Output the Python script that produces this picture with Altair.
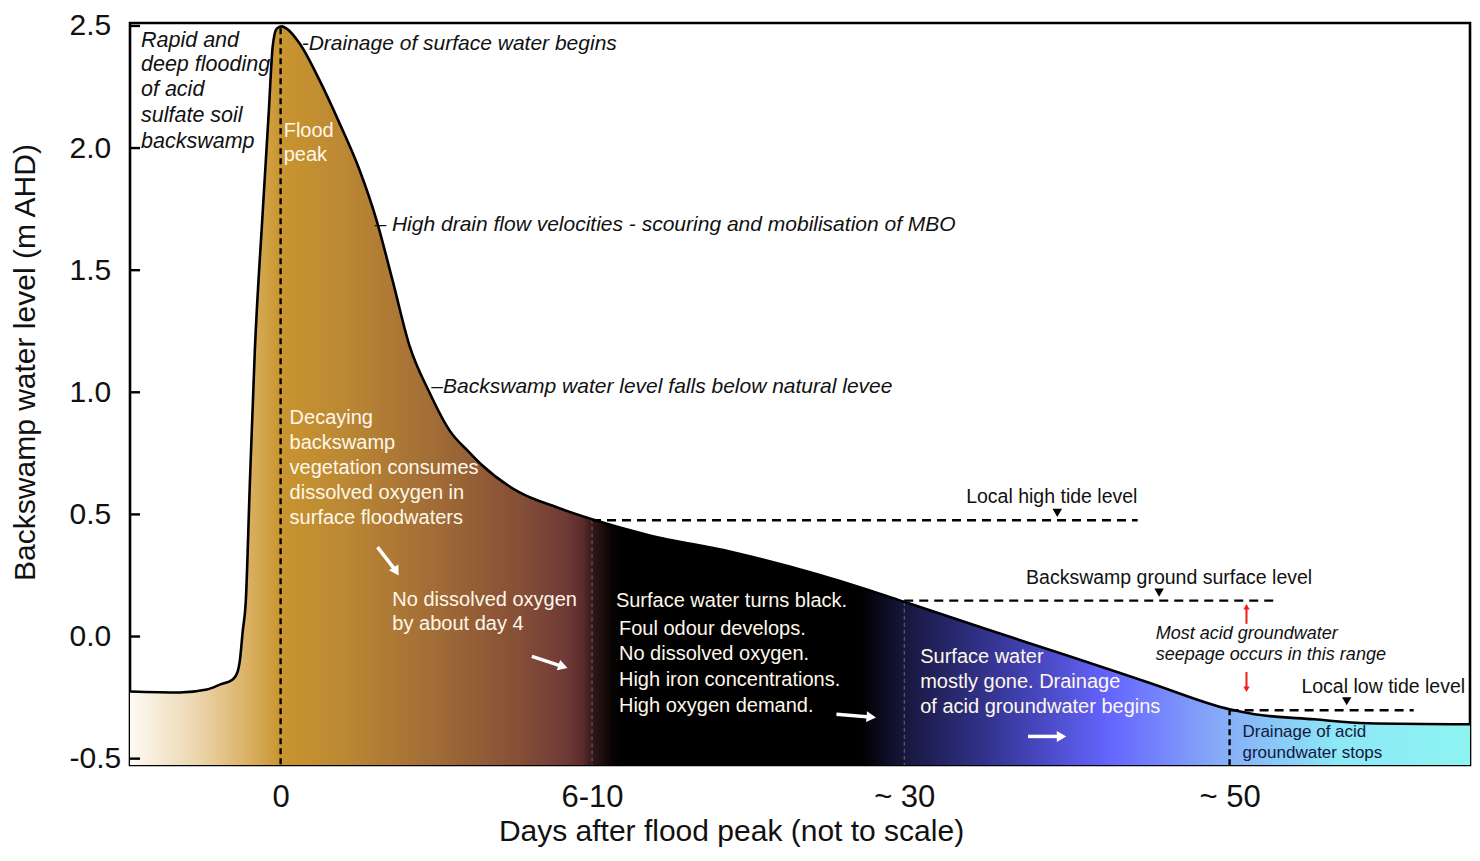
import altair as alt
import pandas as pd

FONT = "Liberation Sans"
Y_MIN, Y_MAX = -0.526, 2.512
X_MIN, X_MAX = 0.0, 100.0

# ---- water level curve (x = position along the not-to-scale time axis, 0..100)
curve_u = [0.0, 3.72, 5.73, 6.70, 7.67, 8.04, 8.19, 8.41, 8.64, 8.94, 9.31, 9.90, 10.35,
           10.65, 10.95, 11.32, 11.69, 12.66, 14.15, 15.64, 17.13, 18.39, 19.58, 20.85,
           22.34, 23.83, 25.32, 26.28, 29.04, 31.79, 34.48, 38.72, 44.90, 51.15, 55.10,
           57.78, 64.0, 70.0, 76.0, 82.06, 83.92, 88.38, 92.33, 100.0]
curve_y = [-0.225, -0.229, -0.217, -0.197, -0.176, -0.143, -0.102, 0.020, 0.143, 0.620,
           1.163, 1.734, 2.142, 2.416, 2.489, 2.498, 2.489, 2.428, 2.277, 2.101, 1.910,
           1.706, 1.461, 1.192, 1.000, 0.845, 0.754, 0.701, 0.591, 0.530, 0.480, 0.415,
           0.346, 0.257, 0.191, 0.142, 0.029, -0.079, -0.188, -0.298, -0.318, -0.339,
           -0.355, -0.359]

# ---- x axis ticks
tick_pos = [11.24, 34.48, 57.78, 82.06]
tick_labels = ["0", "6-10", "~ 30", "~ 50"]
y_ticks = [-0.5, 0.0, 0.5, 1.0, 1.5, 2.0, 2.5]

# ---- vertical dashed stage lines
vline_u = [11.24, 34.48, 57.78, 82.06]
vline_top = [2.49, 0.480, 0.142, -0.298]
vline_kind = ["major", "minor", "minor", "major"]

# ---- horizontal reference levels
level_names = ["Local high tide level", "Backswamp ground surface level", "Local low tide level"]
level_y = [0.476, 0.147, -0.302]
level_start = [34.48, 57.78, 82.06]
level_end = [75.2, 85.6, 95.8]
level_label_u = [62.4, 66.87, 87.42]
level_label_y = [0.572, 0.241, -0.208]
marker_u = [69.2, 76.8, 90.8]
marker_y = [0.506, 0.180, -0.265]

# ---- annotations
italic_text = ["-Drainage of surface water begins",
               "\u2013 High drain flow velocities - scouring and mobilisation of MBO",
               "\u2013Backswamp water level falls below natural levee"]
italic_u = [12.81, 18.24, 22.49]
italic_y = [2.428, 1.685, 1.020]

left_text = ["Rapid and", "deep flooding", "of acid", "sulfate soil", "backswamp"]
left_u = [0.82] * 5
left_y = [2.440, 2.338, 2.236, 2.130, 2.024]

white_text = ["Flood", "peak",
              "Decaying", "backswamp", "vegetation consumes", "dissolved oxygen in", "surface floodwaters",
              "No dissolved oxygen", "by about day 4",
              "Surface water turns black.", "Foul odour develops.", "No dissolved oxygen.",
              "High iron concentrations.", "High oxygen demand.",
              "Surface water", "mostly gone. Drainage", "of acid groundwater begins"]
white_u = [11.47, 11.47,
           11.91, 11.91, 11.91, 11.91, 11.91,
           19.58, 19.58,
           36.26, 36.49, 36.49, 36.49, 36.49,
           58.97, 58.97, 58.97]
white_y = [2.069, 1.971,
           0.894, 0.792, 0.690, 0.588, 0.486,
           0.150, 0.052,
           0.146, 0.032, -0.070, -0.176, -0.283,
           -0.082, -0.188, -0.290]

navy_text = ["Drainage of acid", "groundwater stops"]
navy_u = [83.02, 83.02]
navy_y = [-0.392, -0.478]

seep_text = ["Most acid groundwater", "seepage occurs in this range"]
seep_u = [76.55, 76.55]
seep_y = [0.012, -0.074]

# ---- arrows
w_arrow_u0 = [18.47, 29.99, 52.72, 67.02]
w_arrow_y0 = [0.366, -0.081, -0.318, -0.409]
w_arrow_u1 = [19.80, 32.20, 55.20, 69.40]
w_arrow_y1 = [0.272, -0.121, -0.329, -0.409]
w_arrow_angle = [148, 108, 95, 90]

r_arrow_u = [83.32, 83.32]
r_arrow_y0 = [0.052, -0.145]
r_arrow_y1 = [0.118, -0.212]
r_arrow_angle = [0, 180]

# ---- gradient colours along x
grad_offsets = [0.0, 0.05, 0.085, 0.112, 0.16, 0.23, 0.29, 0.325, 0.338, 0.346, 0.36, 0.37,
                0.545, 0.578, 0.65, 0.73, 0.81, 0.90, 1.0]
grad_colors = ["#fdfaf4", "#ecd6ae", "#dcb46a", "#c9952f", "#bb8834", "#a06b36", "#864f37",
               "#703a37", "#5a2c2c", "#301616", "#080303", "#000000",
               "#000000", "#17173e", "#38389c", "#6464ff", "#86a9f8", "#8ce8f6", "#8ef4f2"]

# ---------------------------------------------------------------------------
xscale = alt.Scale(domain=[X_MIN, X_MAX], nice=False, zero=False)
yscale = alt.Scale(domain=[Y_MIN, Y_MAX], nice=False, zero=False)

label_expr = " : ".join(f"datum.value == {p} ? '{l}'" for p, l in zip(tick_pos, tick_labels)) + " : ''"
ylabel_expr = "datum.value < 0 ? '-' + format(-datum.value, '.1f') : format(datum.value, '.1f')"

xaxis = alt.Axis(values=tick_pos, labelExpr=label_expr, title="Days after flood peak (not to scale)",
                 ticks=False, tickSize=0, domain=False, grid=False, labelFontSize=31, labelPadding=17,
                 labelFont=FONT, labelColor="#111111", titleFont=FONT, titleFontSize=30,
                 titleFontWeight="normal", titleColor="#111111", titleX=601, titleY=66,
                 titleBaseline="middle", titleAlign="center", labelFlush=False)
yaxis = alt.Axis(values=y_ticks, labelExpr=ylabel_expr, title="Backswamp water level (m AHD)",
                 ticks=False, tickSize=0, domain=False, grid=False, labelFontSize=30, labelPadding=61,
                 labelAlign="left", labelFont=FONT, labelColor="#111111", titleFont=FONT,
                 titleFontSize=30, titleFontWeight="normal", titleColor="#111111",
                 titleX=-105, titleY=339, titleBaseline="middle", titleAlign="center", labelFlush=False)


def X(field="u"):
    return alt.X(f"{field}:Q", scale=xscale, axis=xaxis)


def Y(field="y"):
    return alt.Y(f"{field}:Q", scale=yscale, axis=yaxis)


curve_df = pd.DataFrame({"u": curve_u, "y": curve_y})

gradient = alt.Gradient(
    gradient="linear",
    stops=[alt.GradientStop(color=c, offset=o) for o, c in zip(grad_offsets, grad_colors)],
    x1=0, x2=1, y1=0, y2=0,
)

area = alt.Chart(curve_df).mark_area(color=gradient, interpolate="monotone").encode(
    x=X(), y=Y(), y2=alt.datum(Y_MIN)
)
line = alt.Chart(curve_df).mark_line(color="black", strokeWidth=2.6, interpolate="monotone").encode(
    x=X(), y=Y()
)

vdf = pd.DataFrame({"u": vline_u, "y": vline_top, "kind": vline_kind})
v_major = alt.Chart(vdf).transform_filter("datum.kind == 'major'").mark_rule(
    color="black", strokeWidth=2.4, strokeDash=[6, 4]).encode(x=X(), y=Y(), y2=alt.datum(Y_MIN))
v_minor = alt.Chart(vdf).transform_filter("datum.kind == 'minor'").mark_rule(
    color="#6a6a6a", strokeWidth=1, strokeDash=[4, 3]).encode(x=X(), y=Y(), y2=alt.datum(Y_MIN))

ldf = pd.DataFrame({"u": level_start, "u2": level_end, "y": level_y, "name": level_names})
levels = alt.Chart(ldf).mark_rule(color="black", strokeWidth=2.4, strokeDash=[9, 6]).encode(
    x=X(), x2="u2:Q", y=Y())

mdf = pd.DataFrame({"u": marker_u, "y": marker_y})
markers = alt.Chart(mdf).mark_point(shape="triangle-down", filled=True, color="black", size=90,
                                    opacity=1).encode(x=X(), y=Y())

lldf = pd.DataFrame({"u": level_label_u, "y": level_label_y, "t": level_names})
level_labels = alt.Chart(lldf).mark_text(align="left", baseline="middle", font=FONT, fontSize=19.5,
                                         color="#111111").encode(x=X(), y=Y(), text="t:N")

tdf = pd.DataFrame({"u": [X_MIN] * len(y_ticks), "u2": [0.75] * len(y_ticks), "y": y_ticks})
yticks = alt.Chart(tdf).mark_rule(color="black", strokeWidth=2.4).encode(x=X(), x2="u2:Q", y=Y())


def text_layer(us, ys, texts, **kw):
    df = pd.DataFrame({"u": us, "y": ys, "t": texts})
    return alt.Chart(df).mark_text(align="left", baseline="middle", font=FONT, **kw).encode(
        x=X(), y=Y(), text="t:N")


italic_layer = text_layer(italic_u, italic_y, italic_text, fontSize=21, fontStyle="italic", color="#111111")
left_layer = text_layer(left_u, left_y, left_text, fontSize=21.5, fontStyle="italic", color="#111111")
white_layer = text_layer(white_u, white_y, white_text, fontSize=20, color="#fff7ea")
navy_layer = text_layer(navy_u, navy_y, navy_text, fontSize=17, color="#16163e")
seep_layer = text_layer(seep_u, seep_y, seep_text, fontSize=18, fontStyle="italic", color="#111111")

wdf = pd.DataFrame({"u": w_arrow_u0, "y": w_arrow_y0, "u2": w_arrow_u1, "y2": w_arrow_y1,
                    "ang": w_arrow_angle})
w_shaft = alt.Chart(wdf).mark_rule(color="white", strokeWidth=3.5).encode(
    x=X(), y=Y(), x2="u2:Q", y2="y2:Q")
w_head = alt.Chart(wdf).mark_point(shape="triangle", filled=True, color="white", size=120,
                                   opacity=1).encode(x=X("u2"), y=Y("y2"), angle=alt.Angle("ang:Q", scale=None))

rdf = pd.DataFrame({"u": r_arrow_u, "y": r_arrow_y0, "y2": r_arrow_y1, "ang": r_arrow_angle})
r_shaft = alt.Chart(rdf).mark_rule(color="#ee1c1c", strokeWidth=2).encode(x=X(), y=Y(), y2="y2:Q")
r_head = alt.Chart(rdf).mark_point(shape="triangle", filled=True, color="#ee1c1c", size=40,
                                   opacity=1).encode(x=X(), y=Y("y2"), angle=alt.Angle("ang:Q", scale=None))

chart = alt.layer(
    area, v_minor, v_major, levels, line, markers, level_labels, yticks,
    italic_layer, left_layer, white_layer, navy_layer, seep_layer,
    w_shaft, w_head, r_shaft, r_head,
).properties(
    width=1340, height=742,
    background="white",
    autosize=alt.AutoSizeParams(type="none"),
    padding={"left": 122, "top": 15, "right": 2, "bottom": 86},
).configure_view(
    stroke="black", strokeWidth=2.6
)

chart.save("out.html", embed_options={"renderer": "svg", "actions": False})
